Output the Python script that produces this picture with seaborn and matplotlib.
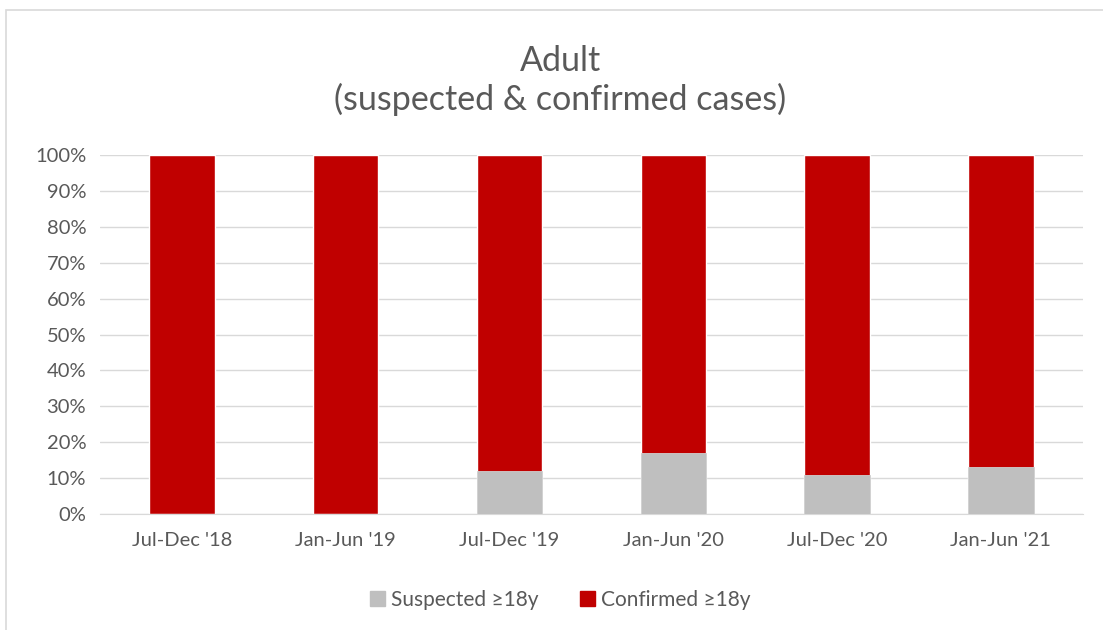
import pandas as pd
import matplotlib.pyplot as plt
import seaborn as sns
from matplotlib.patches import Rectangle, Patch
from matplotlib.ticker import PercentFormatter

# values (percent of cases)
periods = ["Jul-Dec '18", "Jan-Jun '19", "Jul-Dec '19", "Jan-Jun '20", "Jul-Dec '20", "Jan-Jun '21"]
suspected = [0, 0, 12, 17, 11, 13]
confirmed = [100, 100, 88, 83, 89, 87]

df = pd.DataFrame({"period": periods, "suspected": suspected, "confirmed": confirmed})
df["total"] = df["suspected"] + df["confirmed"]

grey = "#bfbfbf"
red = "#c00000"
text_col = "#595959"

sns.set_style("white")
plt.rcParams["font.family"] = ["Lato", "DejaVu Sans"]

fig = plt.figure(figsize=(11.03, 6.30), dpi=100)
ax = fig.add_axes([0.0907, 0.184, 0.891, 0.570])

# stacked: full height in red, suspected part drawn over it in grey
sns.barplot(data=df, x="period", y="total", color=red, width=0.4, ax=ax, saturation=1, zorder=2)
sns.barplot(data=df, x="period", y="suspected", color=grey, width=0.4, ax=ax, saturation=1,
            edgecolor="#d0d0d0", linewidth=0.6, zorder=3)

ax.set_ylim(0, 100)
ax.set_yticks(range(0, 101, 10))
ax.yaxis.set_major_formatter(PercentFormatter(decimals=0))
ax.grid(axis="y", color="#d9d9d9", linewidth=1, zorder=0)
ax.set_axisbelow(True)
for s in ["top", "right", "left"]:
    ax.spines[s].set_visible(False)
ax.spines["bottom"].set_color("#d9d9d9")
ax.set_xlabel("")
ax.set_ylabel("")
ax.tick_params(axis="both", colors=text_col, labelsize=14.5, length=0)
ax.tick_params(axis="x", pad=13)
ax.tick_params(axis="y", pad=10)

fig.text(0.508, 0.872, "Adult\n(suspected & confirmed cases)", ha="center", va="center",
         fontsize=24.5, color=text_col, linespacing=1.2)

handles = [Patch(color=grey, label="Suspected \u226518y"), Patch(color=red, label="Confirmed \u226518y")]
fig.legend(handles=handles, loc="center", bbox_to_anchor=(0.508, 0.048), ncol=2, frameon=False,
           fontsize=15, labelcolor=text_col, handlelength=0.7, handleheight=0.7,
           handletextpad=0.3, columnspacing=2.0)

# chart border (right and bottom edges fall outside the image)
fig.patches.append(Rectangle((0.005, -0.05), 1.1, 1.034, transform=fig.transFigure,
                             fill=False, edgecolor="#d9d9d9", linewidth=1.2))

fig.savefig("out.png", dpi=100)
